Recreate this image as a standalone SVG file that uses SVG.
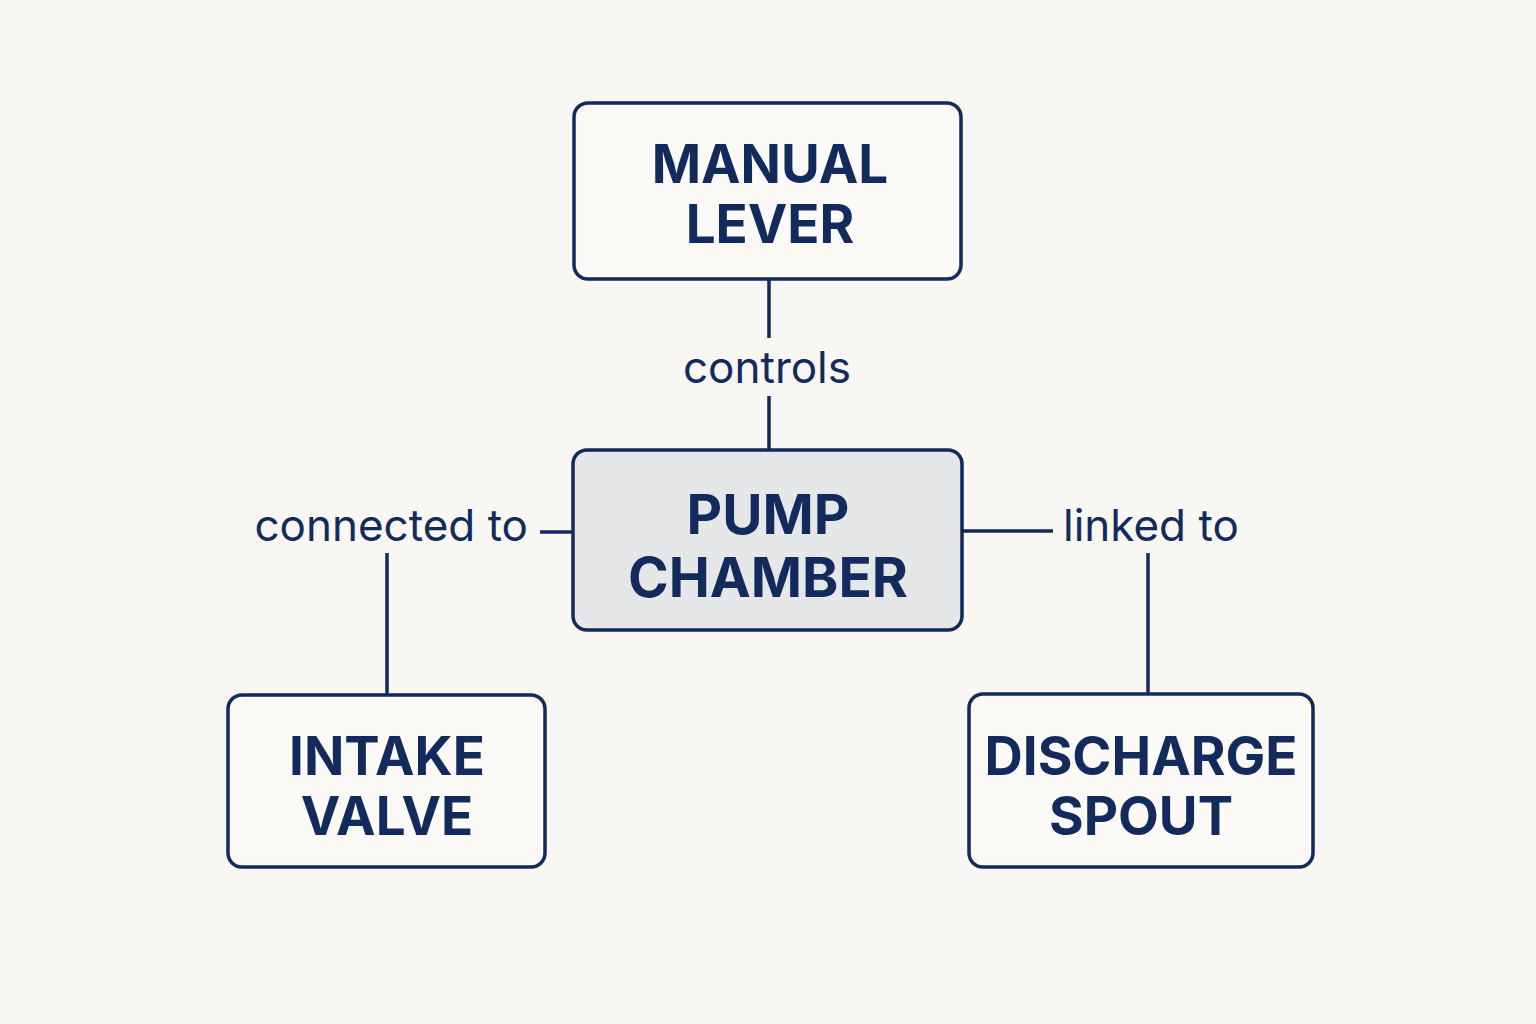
<svg xmlns="http://www.w3.org/2000/svg" width="1536" height="1024" viewBox="0 0 1536 1024">
<style>
.box{fill:#fbfaf7;stroke:#132a5c;stroke-width:3.5}
.main{fill:#e6e7e9}
.t{font-family:Inter,"Liberation Sans",sans-serif;font-weight:700;font-size:53px;fill:#132a5c;text-anchor:middle}
.big{font-size:55px}
.l{font-family:Inter,"Liberation Sans",sans-serif;font-weight:400;font-size:44px;fill:#132a5c}
.c{stroke:#132a5c;stroke-width:3.5;fill:none}
</style>
<rect width="1536" height="1024" fill="#f8f7f3"/>
<g id="connectors">
<line class="c" x1="769" y1="279" x2="769" y2="338"/>
<line class="c" x1="769" y1="396" x2="769" y2="450"/>
<text class="l" x="767" y="383" text-anchor="middle">controls</text>
<line class="c" x1="540" y1="532" x2="573" y2="532"/>
<text class="l" x="528" y="541" text-anchor="end">connected to</text>
<line class="c" x1="387" y1="553" x2="387" y2="695"/>
<line class="c" x1="962" y1="531" x2="1053" y2="531"/>
<text class="l" x="1063" y="541">linked to</text>
<line class="c" x1="1148" y1="553" x2="1148" y2="694"/>
</g>
<g id="manual-lever">
<rect class="box" x="574" y="103" width="387" height="176" rx="14"/>
<text class="t" x="770" y="183">MANUAL</text>
<text class="t" x="770" y="243">LEVER</text>
</g>
<g id="pump-chamber">
<rect class="box main" x="573" y="450" width="389" height="180" rx="14"/>
<text class="t big" x="768" y="534">PUMP</text>
<text class="t big" x="768" y="597">CHAMBER</text>
</g>
<g id="intake-valve">
<rect class="box" x="228" y="695" width="317" height="172" rx="14"/>
<text class="t" x="387" y="775">INTAKE</text>
<text class="t" x="387" y="835">VALVE</text>
</g>
<g id="discharge-spout">
<rect class="box" x="969" y="694" width="344" height="173" rx="14"/>
<text class="t" x="1141" y="775">DISCHARGE</text>
<text class="t" x="1141" y="835">SPOUT</text>
</g>
</svg>
